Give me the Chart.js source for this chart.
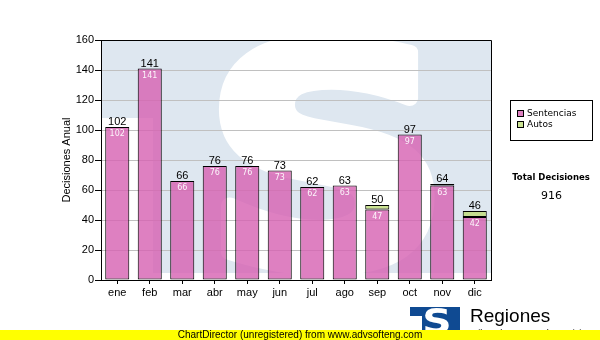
<!DOCTYPE html>
<html><head><meta charset="utf-8">
<script src="https://cdn.jsdelivr.net/npm/chart.js@4/dist/chart.umd.min.js"></script>
<style>html,body{margin:0;padding:0;background:#fff;}#wrap{position:relative;width:600px;height:340px;}canvas{display:block;}</style>
</head><body><div id="wrap"><canvas id="c" width="600" height="340"></canvas></div>
<script>
const months = ['ene','feb','mar','abr','may','jun','jul','ago','sep','oct','nov','dic'];
const sentencias = [102,141,66,76,76,73,62,63,47,97,63,42];
const autos = [0,0,0,0,0,0,0,0,3,0,1,4];
const seriesNames = ['Sentencias','Autos'];
const yTitle = 'Decisiones Anual';
const totalTitle = 'Total Decisiones';
const footerText = 'ChartDirector (unregistered) from www.advsofteng.com';
const logoTitle = 'Regiones';
const logoSub = 'Tribunal Supremo de Justicia';

const PINK = 'rgba(214,96,178,0.8)';
const GREEN = 'rgba(190,220,120,0.8)';
const ARIAL = "'Liberation Sans', Arial, sans-serif";
const VERD = "'DejaVu Sans', Verdana, sans-serif";

const totals = months.map((m,i)=>sentencias[i]+autos[i]);
const grandTotal = totals.reduce((a,b)=>a+b,0);

const watermark = {
  id:'watermark',
  beforeDraw(chart){
    const {ctx, chartArea:a} = chart;
    ctx.save();
    ctx.fillStyle='#fff'; ctx.fillRect(0,0,chart.width,chart.height);
    ctx.beginPath(); ctx.rect(a.left,a.top,a.right-a.left,a.bottom-a.top); ctx.clip();
    ctx.fillStyle='#dee7f0';
    ctx.fillRect(a.left-5, a.top-5, a.right-a.left+10, 118-(a.top-5));
    ctx.fillRect(153, a.top-5, a.right-153+5, 273-(a.top-5));
    ctx.fillStyle='#fff'; ctx.strokeStyle='#fff'; ctx.lineWidth=15; ctx.lineJoin='round';
    ctx.translate(327,264); ctx.scale(1.15,1);
    ctx.font="bold 300px 'DejaVu Sans'";
    ctx.textAlign='center'; ctx.textBaseline='alphabetic';
    ctx.fillText('S',0,0);
    ctx.strokeText('S',0,0);
    ctx.restore();
  }
};

const extras = {
  id:'extras',
  afterDatasetsDraw(chart){
    const ctx=chart.ctx;
    const m0=chart.getDatasetMeta(0), m1=chart.getDatasetMeta(1);
    ctx.save();
    ctx.textAlign='center';
    months.forEach((m,i)=>{
      const b0=m0.data[i], b1=m1.data[i];
      const topY=Math.min(b0.y,b1.y);
      ctx.fillStyle='#000'; ctx.font='11px '+ARIAL; ctx.textBaseline='alphabetic';
      ctx.fillText(String(totals[i]), b0.x, topY-2);
      ctx.fillStyle='rgba(255,255,255,0.92)'; ctx.font='8px '+VERD; ctx.textBaseline='middle';
      ctx.fillText(String(sentencias[i]), b0.x, b0.y+7);
    });
    ctx.restore();
  },
  afterDraw(chart){
    const {ctx, chartArea:a}=chart;
    ctx.save();
    ctx.strokeStyle='#000'; ctx.lineWidth=1;
    ctx.beginPath();
    ctx.moveTo(a.left, Math.round(a.top)+0.5); ctx.lineTo(Math.round(a.right)+0.5, Math.round(a.top)+0.5);
    ctx.lineTo(Math.round(a.right)+0.5, a.bottom);
    ctx.stroke();
    // legend
    ctx.fillStyle='#fff'; ctx.fillRect(510.5,100.5,82,40);
    ctx.strokeRect(510.5,100.5,82,40);
    const items=[[seriesNames[0],'#de80c1'],[seriesNames[1],'#cbe393']];
    ctx.font='9px '+VERD; ctx.textBaseline='middle'; ctx.textAlign='left';
    items.forEach((it,k)=>{
      const y=114+k*11;
      ctx.fillStyle=it[1]; ctx.fillRect(517.5,y-3.5,6,6);
      ctx.strokeStyle='#000'; ctx.strokeRect(517.5,y-3.5,6,6);
      ctx.fillStyle='#000'; ctx.fillText(it[0],527,y);
    });
    ctx.textAlign='center';
    ctx.font='bold 8.5px '+VERD; ctx.fillText(totalTitle,551,178);
    ctx.font='11px '+VERD; ctx.fillText(String(grandTotal),551.5,196);
    // logo
    ctx.fillStyle='#0f4a92';
    ctx.beginPath();
    ctx.moveTo(410,307); ctx.lineTo(460,307); ctx.lineTo(460,332); ctx.lineTo(422,332); ctx.lineTo(422,316); ctx.lineTo(410,316); ctx.closePath();
    ctx.fill();
    ctx.save();
    ctx.beginPath(); ctx.rect(410,307,50,25); ctx.clip();
    ctx.fillStyle='#fff'; ctx.translate(437,333); ctx.scale(1.2,1);
    ctx.font="bold 34px 'DejaVu Sans'"; ctx.textBaseline='alphabetic'; ctx.fillText('S',0,0);
    ctx.restore();
    ctx.fillStyle='#000'; ctx.textAlign='left'; ctx.textBaseline='alphabetic';
    ctx.font='19px '+ARIAL; ctx.fillText(logoTitle,470,322);
    ctx.font='9px '+ARIAL; ctx.fillText(logoSub,470,336);
    // footer band
    ctx.fillStyle='#ffff00'; ctx.fillRect(0,330,600,10);
    ctx.fillStyle='#000'; ctx.font='10px '+ARIAL; ctx.textAlign='center'; ctx.textBaseline='middle';
    ctx.fillText(footerText,300,335.5);
    ctx.restore();
  }
};

new Chart(document.getElementById('c'),{
  type:'bar',
  data:{labels:months,datasets:[
    {label:seriesNames[0],data:sentencias,backgroundColor:PINK,borderColor:'#000',borderWidth:1,borderSkipped:false,categoryPercentage:1,barPercentage:0.74},
    {label:seriesNames[1],data:autos,backgroundColor:GREEN,borderColor:'#000',borderWidth:1,borderSkipped:false,categoryPercentage:1,barPercentage:0.74}
  ]},
  options:{
    responsive:false,animation:false,devicePixelRatio:1,
    layout:{padding:{top:40,right:109,left:0,bottom:0}},
    plugins:{legend:{display:false},tooltip:{enabled:false}},
    scales:{
      x:{stacked:true,
        grid:{display:true,drawOnChartArea:false,offset:false,tickLength:4,tickColor:'#000'},
        border:{color:'#000'},
        ticks:{color:'#000',font:{family:ARIAL,size:11},padding:2,maxRotation:0},
        afterFit(s){s.height=60;}},
      y:{stacked:true,min:0,max:160,
        grid:{color:'#c0c0c0',tickColor:'#000',tickLength:6},
        border:{color:'#000'},
        ticks:{stepSize:20,color:'#000',font:{family:ARIAL,size:11},padding:1},
        title:{display:true,text:yTitle,color:'#000',font:{family:ARIAL,size:11},padding:{top:60,bottom:0}},
        afterFit(s){s.width=101;}}
    }
  },
  plugins:[watermark,extras]
});
</script></body></html>
